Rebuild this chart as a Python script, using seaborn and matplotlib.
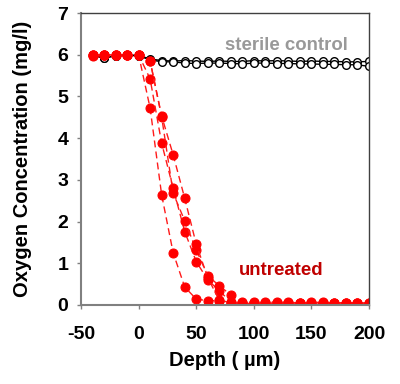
import numpy as np
import pandas as pd
import matplotlib
matplotlib.use("Agg")
import matplotlib.pyplot as plt
import seaborn as sns

depth = [-40, -30, -20, -10, 0, 10, 20, 30, 40, 50, 60, 70, 80, 90, 100,
         110, 120, 130, 140, 150, 160, 170, 180, 190, 200]

# sterile control profiles (open circles)
sterile_a = [6.00, 5.93, 5.98, 6.00, 5.98, 5.90, 5.86, 5.85, 5.86, 5.85, 5.84, 5.85, 5.84,
             5.84, 5.86, 5.85, 5.86, 5.85, 5.84, 5.85, 5.84, 5.84, 5.83, 5.83, 5.84]
sterile_b = [5.98, 5.92, 5.97, 5.99, 5.97, 5.88, 5.83, 5.83, 5.80, 5.79, 5.80, 5.80, 5.79,
             5.78, 5.80, 5.80, 5.79, 5.79, 5.78, 5.78, 5.77, 5.77, 5.76, 5.76, 5.72]

# untreated profiles (red dots, dashed)
untreated_1 = [6.00, 6.00, 6.00, 6.00, 6.00, 4.72, 2.64, 1.25, 0.43, 0.14, 0.10, 0.10, 0.05,
               0.04, 0.04, 0.03, 0.04, 0.05, 0.03, 0.04, 0.03, 0.04, 0.03, 0.04, 0.03]
untreated_2 = [6.00, 6.00, 6.00, 6.00, 6.00, 5.42, 3.88, 2.80, 1.76, 1.04, 0.60, 0.34, 0.07,
               0.05, 0.04, 0.05, 0.04, 0.05, 0.05, 0.04, 0.05, 0.04, 0.05, 0.04, 0.04]
untreated_3 = [6.00, 6.00, 6.00, 6.00, 6.00, 5.85, 4.51, 2.68, 2.02, 1.32, 0.70, 0.46, 0.24,
               0.08, 0.06, 0.06, 0.07, 0.06, 0.05, 0.06, 0.06, 0.05, 0.05, 0.04, 0.05]
untreated_4 = [5.98, 5.99, 6.00, 6.00, 6.00, 5.85, 4.53, 3.60, 2.56, 1.46, 0.65, 0.12, 0.05,
               0.04, 0.03, 0.04, 0.03, 0.04, 0.04, 0.03, 0.04, 0.03, 0.04, 0.03, 0.02]

sns.set_style("ticks")
plt.rcParams['font.family'] = ['Liberation Sans', 'DejaVu Sans']
plt.rcParams['axes.unicode_minus'] = False

fig = plt.figure(figsize=(4, 3.84), dpi=100)
ax = fig.add_axes([0.2025, 0.206, 0.72, 0.76])

for vals in [sterile_a, sterile_b]:
    sns.lineplot(x=depth, y=vals, ax=ax, color='black', linewidth=1,
                 marker='o', markersize=5.5, markerfacecolor='white',
                 markeredgecolor='black', markeredgewidth=1)

for vals in [untreated_1, untreated_2, untreated_3, untreated_4]:
    sns.lineplot(x=depth, y=vals, ax=ax, color='#ff1a1a', linewidth=1,
                 linestyle=(0, (5, 3)), marker='o', markersize=6.5,
                 markerfacecolor='#ff0000', markeredgecolor='#ff0000')

ax.set_xlim(-50, 200)
ax.set_ylim(0, 7)
ax.set_xticks([-50, 0, 50, 100, 150, 200])
ax.set_yticks(range(0, 8))
ax.tick_params(labelsize=14, length=3, width=1, color='#808080', labelcolor='black')
ax.tick_params(axis='x', pad=12)
ax.tick_params(axis='y', pad=6)
for lab in ax.get_xticklabels() + ax.get_yticklabels():
    lab.set_fontweight('bold')

for side in ['left', 'bottom']:
    ax.spines[side].set_color('#808080')
    ax.spines[side].set_linewidth(1.5)
for side in ['top', 'right']:
    ax.spines[side].set_color('#404040')
    ax.spines[side].set_linewidth(1)

ax.set_xlabel('Depth ( µm)', fontsize=14.5, fontweight='bold', color='black')
ax.set_ylabel('Oxygen Concentration (mg/l)', fontsize=14.5, fontweight='bold', color='black')
ax.xaxis.set_label_coords(0.5, -0.158)
ax.yaxis.set_label_coords(-0.17, 0.5)

ax.text(128, 6.23, 'sterile control', color='#999999', fontsize=13.4,
        fontweight='bold', ha='center', va='center')
ax.text(123.6, 0.82, 'untreated', color='#c00000', fontsize=13.4,
        fontweight='bold', ha='center', va='center')

fig.savefig('out.png', dpi=100)
